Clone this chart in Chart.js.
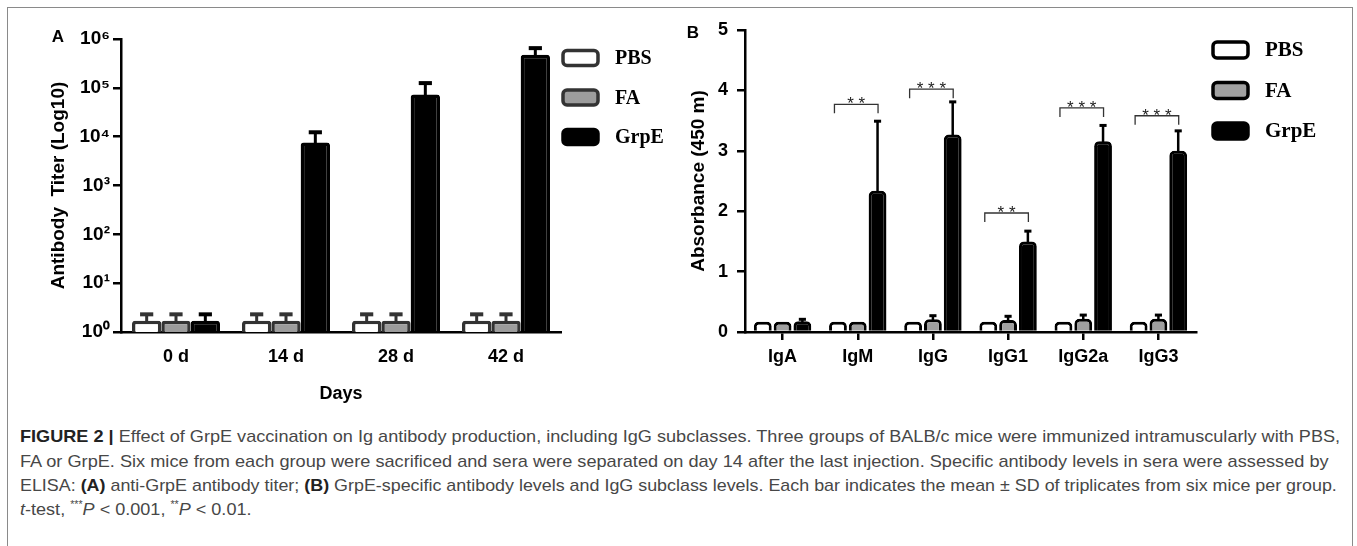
<!DOCTYPE html>
<html>
<head>
<meta charset="utf-8">
<script src="https://cdn.jsdelivr.net/npm/chart.js@4.4.0/dist/chart.umd.min.js"></script>
<style>
  html, body { margin: 0; padding: 0; background: #fff; width: 1357px; height: 546px; overflow: hidden; }
  #frame { position: absolute; left: 7px; top: 7px; width: 1346px; height: 560px; border: 1.5px solid #8a8a8a; box-sizing: border-box; }
  canvas { position: absolute; top: 0; }
  #chartA { left: 0; }
  #chartB { left: 670px; }
  .cap { position: absolute; left: 20px; white-space: nowrap; font-family: "Liberation Sans", Arial, sans-serif;
         font-size: 17px; line-height: 20px; color: #474747; transform-origin: 0 50%; }
  .cap b { color: #222; }
  .cap sup { font-size: 10px; line-height: 0; }
</style>
</head>
<body>
<div id="frame"></div>
<canvas id="chartA" width="690" height="420"></canvas>
<canvas id="chartB" width="687" height="420"></canvas>

<div class="cap" style="top:427px" data-w="1320"><b>FIGURE 2 |</b> Effect of GrpE vaccination on Ig antibody production, including IgG subclasses. Three groups of BALB/c mice were immunized intramuscularly with PBS,</div>
<div class="cap" style="top:452px" data-w="1309">FA or GrpE. Six mice from each group were sacrificed and sera were separated on day 14 after the last injection. Specific antibody levels in sera were assessed by</div>
<div class="cap" style="top:476px" data-w="1317">ELISA: <b>(A)</b> anti-GrpE antibody titer; <b>(B)</b> GrpE-specific antibody levels and IgG subclass levels. Each bar indicates the mean ± SD of triplicates from six mice per group.</div>
<div class="cap" style="top:500px" id="capLast"><i>t</i>-test, <sup>***</sup><i>P</i> &lt; 0.001, <sup>**</sup><i>P</i> &lt; 0.01.</div>

<script>
// ---- panel A: antibody titer by day (log scale)
const dayLabels = ["0 d", "14 d", "28 d", "42 d"];
const titerPBS = [1.7, 1.7, 1.7, 1.7];
const titerPBSErr = [0.6, 0.6, 0.6, 0.6];
const titerFA = [1.7, 1.7, 1.7, 1.7];
const titerFAErr = [0.6, 0.6, 0.6, 0.6];
const titerGrpE = [1.7, 7600, 73000, 475000];
const titerGrpEErr = [0.6, 4700, 52000, 175000];
const titerTicks = [1, 10, 100, 1000, 10000, 100000, 1000000];

// ---- panel B: absorbance per Ig class
const igLabels = ["IgA", "IgM", "IgG", "IgG1", "IgG2a", "IgG3"];
const absPBS = [0.17, 0.17, 0.17, 0.17, 0.17, 0.17];
const absFA = [0.17, 0.17, 0.21, 0.2, 0.22, 0.22];
const absFAErr = [0, 0, 0.06, 0.06, 0.06, 0.06];
const absGrpE = [0.18, 2.34, 3.27, 1.5, 3.16, 3.0];
const absGrpEErr = [0.03, 1.15, 0.54, 0.17, 0.26, 0.33];
const absTicks = [0, 1, 2, 3, 4, 5];
const sigLabels = ["", "* *", "* * *", "* *", "* * *", "* * *"];
const sigHeights = [0, 3.77, 4.02, 1.97, 3.71, 3.58];

const SANS = "'Liberation Sans', Arial, sans-serif";
Chart.defaults.font.family = SANS;
Chart.defaults.color = "#000";
Chart.defaults.animation = false;

const sup = ["\u2070", "\u00b9", "\u00b2", "\u00b3", "\u2074", "\u2075", "\u2076"];

// error bars drawn on top of each bar, upward only
const errorBars = {
  id: "errorBars",
  afterDatasetsDraw(chart, args, opts) {
    const ctx = chart.ctx;
    const y = chart.scales.y;
    chart.data.datasets.forEach((ds, di) => {
      if (!ds.errors) return;
      chart.getDatasetMeta(di).data.forEach((bar, i) => {
        const err = ds.errors[i];
        if (!err) return;
        const top = y.getPixelForValue(ds.data[i] + err);
        const half = bar.width * opts.cap / 2;
        ctx.save();
        ctx.strokeStyle = ds.errorColor;
        ctx.lineWidth = opts.width;
        ctx.beginPath();
        ctx.moveTo(bar.x, bar.y + 2);
        ctx.lineTo(bar.x, top);
        ctx.stroke();
        ctx.lineWidth = opts.capWidth;
        ctx.beginPath();
        ctx.moveTo(bar.x - half, top);
        ctx.lineTo(bar.x + half, top);
        ctx.stroke();
        ctx.restore();
      });
    });
  }
};

// legend boxes + panel letter
const boxLegend = {
  id: "boxLegend",
  afterDraw(chart, args, o) {
    const ctx = chart.ctx;
    chart.data.datasets.forEach((ds, i) => {
      const cy = o.y + i * o.gap;
      ctx.save();
      ctx.beginPath();
      ctx.roundRect(o.x, cy - o.h / 2, o.w, o.h, 4);
      ctx.fillStyle = ds.backgroundColor;
      ctx.fill();
      ctx.lineWidth = o.lw;
      ctx.strokeStyle = ds.borderColor;
      ctx.stroke();
      ctx.font = o.font;
      ctx.fillStyle = "#000";
      ctx.textBaseline = "middle";
      ctx.fillText(ds.label, o.textX, cy + 1);
      ctx.restore();
    });
    ctx.save();
    ctx.font = "bold 17px " + SANS;
    ctx.fillStyle = "#000";
    ctx.textBaseline = "middle";
    ctx.textAlign = "center";
    ctx.fillText(o.letter, o.lx, o.ly);
    ctx.restore();
  }
};

// significance brackets for panel B
const sigBrackets = {
  id: "sigBrackets",
  afterDatasetsDraw(chart) {
    if (!chart.options.plugins.sigBrackets) return;
    const ctx = chart.ctx;
    const x = chart.scales.x, y = chart.scales.y;
    const cat = x.width / igLabels.length;
    sigLabels.forEach((lab, i) => {
      if (!lab) return;
      const cx = x.getPixelForValue(i);
      const l = cx - 0.31 * cat, r = cx + 0.27 * cat;
      const yy = y.getPixelForValue(sigHeights[i]);
      ctx.save();
      ctx.strokeStyle = "#333";
      ctx.lineWidth = 1.3;
      ctx.beginPath();
      ctx.moveTo(l, yy + 9);
      ctx.lineTo(l, yy);
      ctx.lineTo(r, yy);
      ctx.lineTo(r, yy + 9);
      ctx.stroke();
      ctx.font = "17px " + SANS;
      ctx.fillStyle = "#222";
      ctx.textAlign = "center";
      ctx.textBaseline = "alphabetic";
      ctx.fillText(lab, (l + r) / 2, yy + 5);
      ctx.restore();
    });
  }
};

function axisStyle() {
  return { color: "#000", width: 2.5 };
}

// Panel A
new Chart(document.getElementById("chartA"), {
  type: "bar",
  data: {
    labels: dayLabels,
    datasets: [
      { label: "PBS", data: titerPBS, errors: titerPBSErr, errorColor: "#333",
        backgroundColor: "#ffffff", borderColor: "#333", borderWidth: 3.5, borderRadius: 3, borderSkipped: "start" },
      { label: "FA", data: titerFA, errors: titerFAErr, errorColor: "#333",
        backgroundColor: "#9c9c9c", borderColor: "#333", borderWidth: 3.5, borderRadius: 3, borderSkipped: "start" },
      { label: "GrpE", data: titerGrpE, errors: titerGrpEErr, errorColor: "#000",
        backgroundColor: "#000000", borderColor: "#000", borderWidth: 3.5, borderRadius: 3, borderSkipped: "start" }
    ]
  },
  options: {
    responsive: false,
    layout: { padding: { left: 0, top: 39, right: 129, bottom: 0 } },
    datasets: { bar: { categoryPercentage: 0.8, barPercentage: 1.0 } },
    plugins: {
      legend: { display: false },
      tooltip: { enabled: false },
      errorBars: { cap: 0.45, width: 3, capWidth: 4 },
      boxLegend: { x: 563, y: 58, gap: 39.5, w: 35, h: 15, lw: 3.5, textX: 615,
                   font: "bold 20px 'Liberation Serif', serif", letter: "A", lx: 58, ly: 37 }
    },
    scales: {
      x: {
        z: 1,
        grid: { display: false, drawTicks: false },
        border: axisStyle(),
        ticks: { font: { size: 18, weight: "bold" }, padding: 14, color: "#000" },
        title: { display: true, text: "Days", font: { size: 18, weight: "bold" }, padding: { top: 0, bottom: 15 } },
        afterFit: s => { s.height = 88; }
      },
      y: {
        type: "logarithmic",
        min: 1,
        max: 1000000,
        afterBuildTicks: s => { s.ticks = titerTicks.map(v => ({ value: v })); },
        grid: { drawOnChartArea: false, tickLength: 8, color: "#000", lineWidth: 2.5 },
        border: axisStyle(),
        ticks: {
          font: { size: 19, weight: "bold" }, padding: 3, color: "#000",
          callback: v => "10" + sup[Math.round(Math.log10(v))]
        },
        title: { display: true, text: "Antibody  Titer (Log10)", font: { size: 19, weight: "bold" }, padding: { top: 47, bottom: 0 } },
        afterFit: s => { s.width = 121; }
      }
    }
  },
  plugins: [errorBars, boxLegend]
});

// Panel B
new Chart(document.getElementById("chartB"), {
  type: "bar",
  data: {
    labels: igLabels,
    datasets: [
      { label: "PBS", data: absPBS, backgroundColor: "#ffffff", borderColor: "#000", borderWidth: 3, borderRadius: 5, borderSkipped: "start" },
      { label: "FA", data: absFA, errors: absFAErr, errorColor: "#000",
        backgroundColor: "#a0a0a0", borderColor: "#000", borderWidth: 3, borderRadius: 5, borderSkipped: "start" },
      { label: "GrpE", data: absGrpE, errors: absGrpEErr, errorColor: "#000",
        backgroundColor: "#000000", borderColor: "#000", borderWidth: 3, borderRadius: 5, borderSkipped: "start" }
    ]
  },
  options: {
    responsive: false,
    layout: { padding: { left: 0, top: 30, right: 161, bottom: 0 } },
    datasets: { bar: { categoryPercentage: 0.79, barPercentage: 0.9 } },
    plugins: {
      legend: { display: false },
      tooltip: { enabled: false },
      errorBars: { cap: 0.4, width: 2.5, capWidth: 3 },
      sigBrackets: true,
      boxLegend: { x: 543, y: 50, gap: 40.5, w: 35, h: 16, lw: 3.5, textX: 595,
                   font: "bold 21px 'Liberation Serif', serif", letter: "B", lx: 23, ly: 33 }
    },
    scales: {
      x: {
        z: 1,
        grid: { offset: false, drawOnChartArea: false, tickLength: 8, color: "#000", lineWidth: 2.5 },
        border: axisStyle(),
        ticks: { font: { size: 18, weight: "bold" }, padding: 6, color: "#000" },
        afterFit: s => { s.height = 88; }
      },
      y: {
        min: 0,
        max: 5,
        afterBuildTicks: s => { s.ticks = absTicks.map(v => ({ value: v })); },
        grid: { drawOnChartArea: false, tickLength: 8, color: "#000", lineWidth: 2.5 },
        border: axisStyle(),
        ticks: { font: { size: 18, weight: "bold" }, padding: 9, color: "#000" },
        title: { display: true, text: "Absorbance (450 m)", font: { size: 19, weight: "bold" }, padding: { top: 17, bottom: 0 } },
        afterFit: s => { s.width = 75; }
      }
    }
  },
  plugins: [errorBars, sigBrackets, boxLegend]
});

// squeeze caption lines to the widths in the figure
const caps = document.querySelectorAll(".cap[data-w]");
let scaleSum = 0;
caps.forEach(el => {
  const k = +el.dataset.w / el.scrollWidth;
  scaleSum += k;
  el.style.transform = "scaleX(" + k + ")";
});
document.getElementById("capLast").style.transform = "scaleX(" + (scaleSum / caps.length) + ")";
</script>
</body>
</html>
